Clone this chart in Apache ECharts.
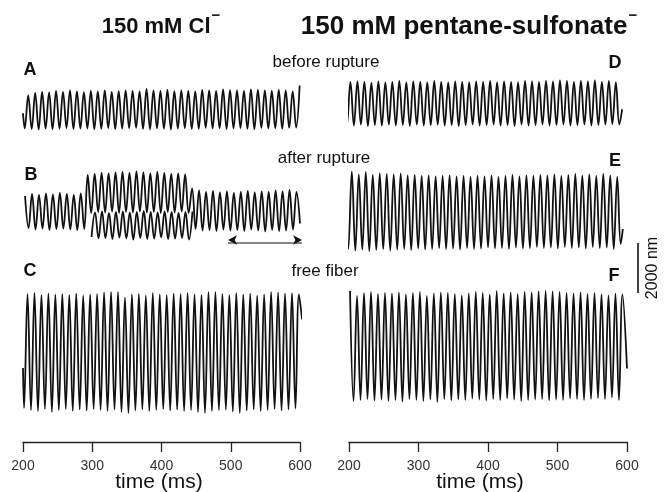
<!DOCTYPE html>
<html>
<head>
<meta charset="utf-8">
<script src="https://cdn.jsdelivr.net/npm/echarts@6/dist/echarts.min.js"></script>
<style>
  html, body { margin: 0; padding: 0; background: #fff; }
  #chart { width: 672px; height: 492px; }
</style>
</head>
<body>
<div id="chart"></div>
<script>
// time between successive extremes (ms), ~99.5 Hz oscillation
const halfPeriod = 5.025
const timeTicks = [200, 300, 400, 500, 600]

// A: 150 mM Cl-, before rupture (nm), trough first
const aLead = [200, -150]
const aT0 = 202.5
const aTroughs = [-760, -780, -800, -760, -790, -770, -740, -780, -760, -750, -790, -770, -740, -780, -760, -750, -730, -770, -790, -750, -770, -800, -760, -740, -780, -770, -730, -760, -750, -780, -760, -740, -770, -790, -730, -760, -750, -770, -730, -720]
const aPeaks = [560, 660, 700, 680, 740, 700, 760, 720, 690, 740, 720, 760, 700, 730, 760, 740, 720, 820, 760, 740, 780, 730, 760, 740, 720, 780, 760, 740, 800, 770, 760, 740, 800, 780, 760, 740, 780, 760, 720, 960]

// B: 150 mM Cl-, after rupture, peak first (middle part shifted up)
const bT0 = 203
const bUpperPeaks = [600, 680, 640, 700, 660, 720, 680, 640, 700, 1440, 1480, 1520, 1500, 1540, 1560, 1520, 1580, 1540, 1500, 1560, 1520, 1480, 1500, 1460, 900, 820, 760, 800, 740, 780, 720, 760, 800, 740, 780, 760, 820, 780, 840, 760]
const bUpperTroughs = [-680, -740, -700, -760, -720, -700, -740, -760, -720, -80, -40, -60, -20, -80, -40, -60, -20, -60, -40, -80, -40, -60, -20, -80, -720, -780, -760, -800, -740, -780, -760, -800, -740, -780, -820, -760, -800, -780, -740, -500]
// second (lower) trace during the middle part, trough first
const bLowerT0 = 299
const bLowerTroughs = [-1040, -1100, -1080, -1120, -1060, -1100, -1140, -1080, -1120, -1100, -1060, -1120, -1100, -1080, -1140]
const bLowerPeaks = [-60, -20, -80, -40, -20, -60, -40, 0, -40, -60, -20, -40, -80, -40, -20]
// double arrow under B: from, to (ms), level (nm)
const bArrow = [496, 603, -1280]

// C: 150 mM Cl-, free fiber, trough first
const cLead = [200, -640]
const cT0 = 201.5
const cTroughs = [-2240, -2320, -2360, -2280, -2400, -2320, -2280, -2360, -2300, -2340, -2280, -2320, -2360, -2300, -2400, -2440, -2340, -2300, -2360, -2320, -2280, -2340, -2300, -2360, -2320, -2400, -2440, -2360, -2320, -2300, -2380, -2440, -2340, -2300, -2360, -2320, -2280, -2340, -2300, -2260]
const cPeaks = [2320, 2360, 2280, 2340, 2300, 2320, 2280, 2340, 2260, 2300, 2320, 2380, 2400, 2400, 2180, 2300, 2320, 2260, 2360, 2300, 2280, 2340, 2320, 2360, 2300, 2280, 2400, 2400, 2320, 2280, 2360, 2300, 2340, 2260, 2300, 2400, 2380, 2340, 2360, 2300]
const cTail = [603, 1300]

// D: pentane-sulfonate, before rupture, peak first
const dT0 = 192
const dPeaks = [920, 840, 860, 840, 800, 860, 820, 840, 880, 820, 860, 840, 820, 880, 840, 820, 860, 840, 820, 860, 840, 880, 820, 860, 840, 820, 880, 860, 840, 880, 860, 900, 880, 840, 880, 860, 900, 840, 880, 820]
const dTroughs = [-880, -900, -860, -920, -880, -900, -860, -900, -880, -920, -860, -900, -880, -860, -900, -880, -920, -880, -860, -900, -880, -860, -900, -880, -920, -860, -900, -880, -860, -900, -880, -860, -900, -880, -860, -900, -880, -860, -840, -860]
const dTail = [593, -250]

// E: pentane-sulfonate, after rupture, peak first
const eT0 = 194
const ePeaks = [1560, 1600, 1480, 1580, 1460, 1520, 1500, 1480, 1520, 1440, 1460, 1420, 1440, 1400, 1420, 1440, 1400, 1420, 1380, 1420, 1400, 1440, 1380, 1420, 1460, 1400, 1440, 1420, 1460, 1440, 1480, 1420, 1460, 1500, 1440, 1480, 1420, 1500, 1440, 1380]
const eTroughs = [-1500, -1560, -1520, -1580, -1540, -1500, -1560, -1520, -1500, -1540, -1480, -1520, -1500, -1460, -1500, -1480, -1520, -1460, -1500, -1480, -1440, -1480, -1460, -1500, -1440, -1480, -1460, -1420, -1460, -1440, -1480, -1420, -1460, -1440, -1480, -1420, -1460, -1440, -1500, -1300]
const eTail = [594, -700]

// F: pentane-sulfonate, free fiber, peak first
const fT0 = 201.5
const fPeaks = [2200, 2000, 2120, 2160, 2080, 2120, 2100, 2140, 2060, 2120, 2160, 2000, 2100, 2140, 2120, 2080, 2020, 2100, 2160, 2120, 2060, 2200, 2100, 2140, 2080, 2160, 2140, 2180, 2200, 2180, 2160, 2120, 2100, 2140, 2080, 2120, 2060, 2020, 2100, 2060]
const fTroughs = [-2200, -2160, -2120, -2180, -2140, -2200, -2160, -2220, -2120, -2160, -2200, -2140, -2240, -2120, -2180, -2140, -2160, -2100, -2140, -2180, -2120, -2160, -2100, -2140, -2200, -2160, -2140, -2120, -2180, -2140, -2160, -2100, -2120, -2160, -2120, -2080, -2120, -2060, -2160]
const fTail = [600, -900]

const scaleBar = [0, 2000] // nm

// alternate two lists of extremes on an even time grid
function trace(t0, first, second, lead, tail) {
  let pts = []
  if (lead) pts.push(lead)
  let n = first.length + second.length
  for (let i = 0; i < n; i++) {
    let v = i % 2 === 0 ? first[i >> 1] : second[i >> 1]
    pts.push([t0 + i * halfPeriod, v])
  }
  if (tail) pts.push(tail)
  return pts
}

const font = '"Liberation Sans", Arial, Helvetica, sans-serif'
const ink = '#111'

// trace rows: left px, width px, centre y px
const LEFT = 23, RIGHT = 349, W_L = 277, W_R = 278
const rows = [
  [LEFT, W_L, 109.5],
  [LEFT, W_L, 211],
  [LEFT, W_L, 352],
  [RIGHT, W_R, 103],
  [RIGHT, W_R, 211.5],
  [RIGHT, W_R, 346]
]
const HALF = 80 // px, 40 nm per px

let grids = [], xAxes = [], yAxes = []
rows.forEach(r => {
  grids.push({ left: r[0], width: r[1], top: r[2] - HALF, height: HALF * 2 })
  xAxes.push({ type: 'value', min: 200, max: 600, show: false, gridIndex: grids.length - 1 })
  yAxes.push({ type: 'value', min: -HALF * 40, max: HALF * 40, show: false, gridIndex: grids.length - 1 })
})
// time axes
;[[LEFT, W_L], [RIGHT, W_R]].forEach(r => {
  grids.push({ left: r[0], width: r[1], top: 400, height: 42 })
  xAxes.push({
    type: 'value', min: 200, max: 600, interval: 100, gridIndex: grids.length - 1,
    axisLine: { lineStyle: { color: '#222', width: 1.3 } },
    axisTick: { length: 10, lineStyle: { color: '#222', width: 1.3 } },
    splitLine: { show: false },
    axisLabel: { color: '#333', fontSize: 14, fontFamily: font, margin: 17, showMinLabel: true, showMaxLabel: true,
      customValues: timeTicks }
  })
  yAxes.push({ type: 'value', show: false, gridIndex: grids.length - 1 })
})
// scale bar grid
grids.push({ left: 636, width: 4, top: 243, height: 50 })
xAxes.push({ type: 'value', min: 0, max: 1, show: false, gridIndex: 8 })
yAxes.push({ type: 'value', min: scaleBar[0], max: scaleBar[1], show: false, gridIndex: 8 })

function line(idx, data, extra) {
  return Object.assign({
    type: 'line', xAxisIndex: idx, yAxisIndex: idx, data: data,
    showSymbol: false, symbol: 'none', clip: false, animation: false, silent: true,
    smooth: 0.4,
    lineStyle: { color: ink, width: 1.8 }
  }, extra || {})
}

const series = [
  line(0, trace(aT0, aTroughs, aPeaks, aLead)),
  line(1, trace(bT0, bUpperPeaks, bUpperTroughs)),
  line(1, trace(bLowerT0, bLowerTroughs, bLowerPeaks)),
  line(2, trace(cT0, cTroughs, cPeaks, cLead, cTail)),
  line(3, trace(dT0, dPeaks, dTroughs, null, dTail)),
  line(4, trace(eT0, ePeaks, eTroughs, null, eTail)),
  line(5, trace(fT0, fPeaks, fTroughs, null, fTail)),
  line(8, [[0.5, scaleBar[0]], [0.5, scaleBar[1]]], { smooth: false, lineStyle: { color: ink, width: 1.6 } }),
  // double-headed arrow
  line(1, [
    { value: [bArrow[0], bArrow[2]], symbolRotate: 90 },
    { value: [bArrow[1], bArrow[2]], symbolRotate: -90 }
  ], {
    smooth: false, showSymbol: true, symbol: 'arrow', symbolSize: [7, 9],
    symbolKeepAspect: true, symbolOffset: [0, -3],
    itemStyle: { color: ink }, lineStyle: { color: ink, width: 1.2 }
  })
]

function txt(x, y, s, size, bold, extra) {
  return Object.assign({
    type: 'text', x: x, y: y, silent: true,
    style: { text: s, fill: '#111', font: (bold ? 'bold ' : '') + size + 'px ' + font,
      textAlign: 'center', textVerticalAlign: 'middle' }
  }, extra || {})
}

// bold title with a small superscript minus
function title(x, s, size) {
  return {
    type: 'text', x: x, y: 27, silent: true,
    style: {
      text: '{m|' + s + '}{s|\u2212}',
      textAlign: 'center', textVerticalAlign: 'middle', fill: '#111',
      rich: {
        m: { fontSize: size, fontWeight: 'bold', fontFamily: font, fill: '#111', lineHeight: size },
        s: { fontSize: 15, fontWeight: 'bold', fontFamily: font, fill: '#111', verticalAlign: 'top', lineHeight: 38, padding: [0, 0, 0, 1] }
      }
    }
  }
}

const graphic = [
  title(161, '150 mM Cl', 22),
  title(469, '150 mM pentane-sulfonate', 26),
  txt(326, 62, 'before rupture', 17, false),
  txt(324, 158, 'after rupture', 17, false),
  txt(325, 271, 'free fiber', 17, false),
  txt(30, 70, 'A', 18, true),
  txt(31, 175, 'B', 18, true),
  txt(30, 271, 'C', 18, true),
  txt(615, 63, 'D', 18, true),
  txt(615, 161, 'E', 18, true),
  txt(614, 276, 'F', 18, true),
  txt(159, 482, 'time (ms)', 21, false),
  txt(480, 482, 'time (ms)', 21, false),
  txt(653, 268, '2000 nm', 16, false, { rotation: Math.PI / 2 })
]

const chart = echarts.init(document.getElementById('chart'), null, { renderer: 'canvas' })
chart.setOption({
  animation: false,
  backgroundColor: '#fff',
  grid: grids,
  xAxis: xAxes,
  yAxis: yAxes,
  series: series,
  graphic: graphic
})
</script>
</body>
</html>
